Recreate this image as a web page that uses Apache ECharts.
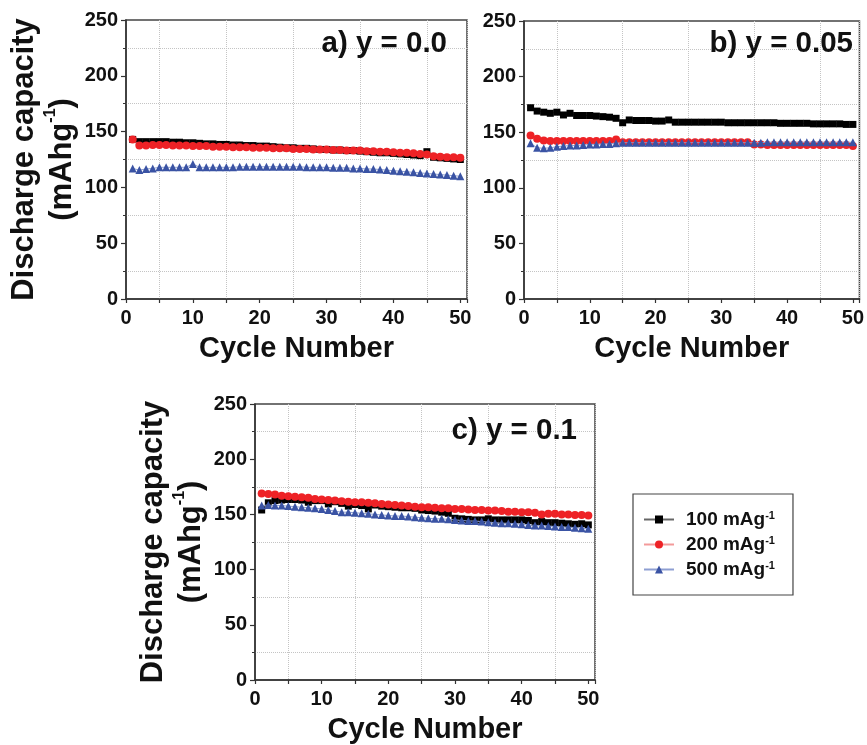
<!DOCTYPE html>
<html>
<head>
<meta charset="utf-8">
<script src="https://cdn.jsdelivr.net/npm/echarts@6/dist/echarts.min.js"></script>
<style>
  html, body { margin: 0; padding: 0; background: #fff; }
  #chart { width: 867px; height: 745px; }
</style>
</head>
<body>
<div id="chart"></div>
<script>
// cycle numbers 1..50
const cycles = [1,2,3,4,5,6,7,8,9,10,11,12,13,14,15,16,17,18,19,20,21,22,23,24,25,
  26,27,28,29,30,31,32,33,34,35,36,37,38,39,40,41,42,43,44,45,46,47,48,49,50]

const seriesNames = ['100 mAg-1', '200 mAg-1', '500 mAg-1']
const panelTitles = ['a) y = 0.0', 'b) y = 0.05', 'c) y = 0.1']
const yTicks = [0, 50, 100, 150, 200, 250]
const xTicks = [0, 10, 20, 30, 40, 50]

// a) y = 0.0
const a100 = [143,141,141,141,141,141,140.5,140.5,140,140,139.5,139,139,138.5,138.5,138,138,137.5,137.5,137,
  137,136.5,136,135.5,135.5,135,135,134.5,134,134,133.5,133.5,133,133,132.5,132,131.5,131,131,130.5,
  130,129.5,129,128.5,132,127,126.5,126,125.5,125]
const a200 = [143,137.5,137.5,138,138,138,137.5,137.5,137.5,137,137,137,136.5,136.5,136.5,136,136,136,135.5,135.5,
  135.5,135,135,135,134.5,134.5,134.5,134,134,134,133.5,133.5,133,133,133,132.5,132.5,132,132,131.5,
  131,131,130.5,130,129.5,128,127.5,127,127,126.5]
const a500 = [117,115.5,116.5,117,118,118,118,118,118,121,118,118,118,118,118,118,118.5,118.5,118.5,118.5,
  118.5,118.5,118.5,118.5,118.5,118.5,118,118,118,118,117.5,117.5,117.5,117,117,116.5,116.5,116,115.5,115,
  114.5,114,113.5,113,112.5,112,111.5,111,110.5,110]

// b) y = 0.05
const b100 = [172,169,168,167,168,165.5,167,165,165,165,164.5,164,163.5,162.5,158.5,161,160.5,160.5,160.5,160,
  160,161,159,159,159,159,159,159,159,159,158.5,158.5,158.5,158.5,158.5,158.5,158.5,158.5,158,158,
  158,158,158,157.5,157.5,157.5,157.5,157.5,157,157]
const b200 = [147,144,142.5,142,142,142,142,142,142,142,142,142,142,143.5,141,141,141,141,141,141,
  141,141,141,141,141,141,141,141,141,141,141,141,141,141,139,139,138.5,138.5,138.5,138.5,
  138.5,138.5,138.5,138.5,138.5,138.5,138.5,138.5,138.5,137.5]
const b500 = [140,136,135.5,136,137,137.5,138,138,138.5,139,139,139.5,139.5,140,140.5,140.5,140.5,140.5,140.5,140.5,
  140.5,140.5,140.5,140.5,140.5,140.5,140.5,140.5,140.5,140.5,140.5,140.5,140.5,140.5,140.5,140.5,141,141,141,141,
  141,141,141,141,141,141,141,141,141,141]

// c) y = 0.1
const c100 = [154,160.5,162.5,163,163.5,163.5,163,161,162.5,162.5,159.5,161.5,160,157.5,159,158,155,158.5,157.5,157,
  156.5,156,156,155.5,154,153.5,153,152,151,146.5,146,145.5,145,145,146,145,145,145,145,145,
  144.5,142.5,143.5,142.5,142.5,142,141.5,141,141.5,140.5]
const c200 = [169,168.5,168,167,166.5,166,165.5,165,164,163.5,163,162.5,162,161.5,161,161,160.5,160,159.5,159,
  158.5,158,157.5,157,156.5,156.5,156,155.5,155.5,155,155,154.5,154,154,153.5,153.5,153,152.5,152.5,152,
  152,151.5,150,150.5,150.5,150,150,149.5,149.5,149]
const c500 = [158,158.5,158,158,157.5,157,156.5,156,155.5,155,154,153,152,152,151.5,151,150.5,150,149.5,149,
  148.5,148.5,148,147.5,147,146.5,146,146,145.5,145,144.5,144,144,143.5,143,142.5,142,142,141.5,141,
  140.5,140,140,139.5,139,138.5,138.5,138,137.5,137]

const panelData = [[a100, a200, a500], [b100, b200, b500], [c100, c200, c500]]

const FONT = '"Liberation Sans", Arial, sans-serif'
const markers = [
  { symbol: 'rect', size: 7, color: '#000000', line: '#666666' },
  { symbol: 'circle', size: 8, color: '#ee2226', line: '#f39a9a' },
  { symbol: 'triangle', size: 8, color: '#3a53a4', line: '#8e9fd2' }
]

const grids = [
  { left: 126, top: 20, width: 341, height: 279 },
  { left: 524, top: 21, width: 340, height: 278 },
  { left: 255, top: 404, width: 340, height: 280 }
]
// panel b has no y axis title in the figure
const showYName = [true, false, true]

let myChart = echarts.init(document.getElementById('chart'))

let xAxes = [], yAxes = [], series = [], titles = []
grids.forEach((g, i) => {
  xAxes.push({
    type: 'value', gridIndex: i, min: 0, max: 51, interval: 5,
    name: 'Cycle Number', nameLocation: 'middle', nameGap: 35,
    nameTextStyle: { fontFamily: FONT, fontWeight: 'bold', fontSize: 29, color: '#111' },
    axisLine: { lineStyle: { color: '#333', width: 1.5 } },
    axisTick: { length: 4, lineStyle: { color: '#333', width: 1.2 } },
    axisLabel: {
      margin: 9, fontFamily: FONT, fontWeight: 'bold', fontSize: 20, color: '#111',
      formatter: v => (xTicks.indexOf(v) >= 0 ? String(v) : '')
    },
    splitLine: { show: true, lineStyle: { color: ['rgba(0,0,0,0)', '#c4c4c4'], type: 'dotted', width: 1 } }
  })
  yAxes.push({
    type: 'value', gridIndex: i, min: 0, max: 250, interval: 50,
    name: showYName[i] ? '{t|Discharge capacity}\n{t|(mAhg}{s|-1}{t|)}' : '',
    nameLocation: 'middle', nameGap: 45,
    nameTextStyle: {
      rich: {
        t: { fontFamily: FONT, fontWeight: 'bold', fontSize: 31, color: '#111', lineHeight: 38 },
        s: { fontFamily: FONT, fontWeight: 'bold', fontSize: 16, color: '#111', verticalAlign: 'top', lineHeight: 38 }
      }
    },
    axisLine: { show: true, lineStyle: { color: '#333', width: 1.5 } },
    axisTick: { show: true, length: 5, lineStyle: { color: '#333', width: 1.2 } },
    minorTick: { show: true, splitNumber: 2, length: 3, lineStyle: { color: '#333' } },
    axisLabel: {
      margin: 8, fontFamily: FONT, fontWeight: 'bold', fontSize: 20, color: '#111',
      formatter: v => (yTicks.indexOf(v) >= 0 ? String(v) : '')
    },
    splitLine: { show: false },
    minorSplitLine: { show: true, lineStyle: { color: '#c4c4c4', type: 'dotted', width: 1 } }
  })
  panelData[i].forEach((vals, k) => {
    series.push({
      name: seriesNames[k], type: 'line', xAxisIndex: i, yAxisIndex: i,
      data: cycles.map((c, j) => [c, vals[j]]),
      symbol: markers[k].symbol, symbolSize: markers[k].size,
      itemStyle: { color: markers[k].color },
      lineStyle: { color: markers[k].line, width: 1 },
      z: 2 + k, animation: false
    })
  })
})

titles = [
  { text: panelTitles[0], right: 420, top: 29 },
  { text: panelTitles[1], right: 14, top: 29 },
  { text: panelTitles[2], right: 290, top: 416 }
].map(t => Object.assign(t, {
  padding: 0,
  textStyle: { fontFamily: FONT, fontWeight: 'bold', fontSize: 29.5, color: '#111' }
}))

let option = {
  backgroundColor: '#fff',
  animation: false,
  title: titles,
  grid: grids.map(g => Object.assign({}, g, {
    show: true, borderColor: '#444', borderWidth: 1.5, backgroundColor: 'transparent', containLabel: false
  })),
  xAxis: xAxes,
  yAxis: yAxes,
  legend: {
    left: 633, top: 494, orient: 'vertical',
    data: seriesNames,
    padding: [16, 18, 16, 10], itemGap: 6, itemWidth: 30, itemHeight: 10,
    borderColor: '#444', borderWidth: 1.2,
    formatter: name => '{t|' + name.replace('-1', '') + '}{s|-1}',
    textStyle: {
      rich: {
        t: { fontFamily: FONT, fontWeight: 'bold', fontSize: 19, color: '#111', lineHeight: 19, padding: [0, 0, 0, 7] },
        s: { fontFamily: FONT, fontWeight: 'bold', fontSize: 11, color: '#111', verticalAlign: 'top', lineHeight: 19 }
      }
    }
  },
  series: series
}

myChart.setOption(option)
</script>
</body>
</html>
